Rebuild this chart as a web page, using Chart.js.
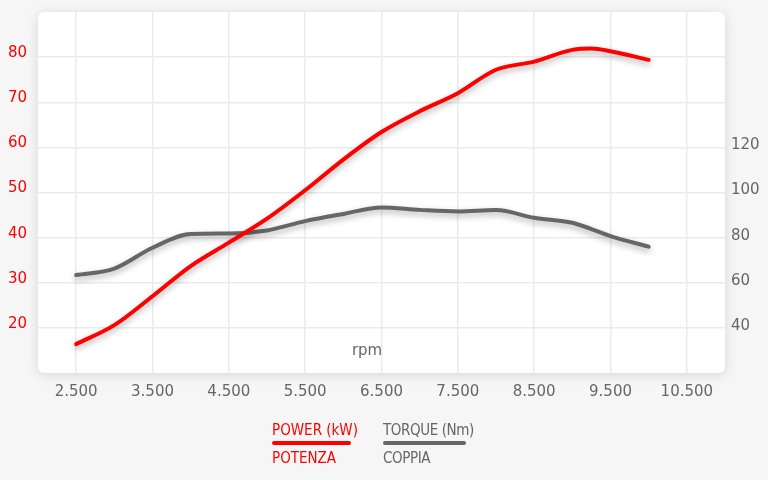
<!DOCTYPE html>
<html>
<head>
<meta charset="utf-8">
<script src="https://cdn.jsdelivr.net/npm/chart.js@4/dist/chart.umd.min.js"></script>
<style>
    html, body { margin: 0; padding: 0; background: #f6f6f6; }
    #wrap { position: relative; width: 768px; height: 480px; }
    #chart { position: absolute; left: 0; top: 0; }
    .leg { position: absolute; font-family: "Liberation Sans Narrow", "DejaVu Sans Condensed", sans-serif; font-size: 15px; line-height: 18px; }
    .leg .bar { height: 4px; border-radius: 2px; margin: 2px 0 4px 0; }
    .power { left: 272px; top: 421px; color: #ff0000; }
    .power .bar { background: #ff0000; width: 79px; }
    .torque { left: 383px; top: 421px; color: #666666; letter-spacing: -0.4px; }
    .torque .bar { background: #666666; width: 83px; }
</style>
</head>
<body>
<div id="wrap">
    <canvas id="chart" width="768" height="480"></canvas>
    <div class="leg power"><div>POWER (kW)</div><div class="bar"></div><div>POTENZA</div></div>
    <div class="leg torque"><div>TORQUE (Nm)</div><div class="bar"></div><div>COPPIA</div></div>
</div>
<script>
const rpm = [2500, 3000, 3500, 4000, 4500, 5000, 5500, 6000, 6500, 7000, 7500, 8000, 8500, 9000, 9250, 9500, 10000];
const power = [16.4, 20.6, 27.0, 33.7, 38.9, 44.2, 50.5, 57.3, 63.4, 68.0, 72.0, 77.2, 79.0, 81.6, 81.9, 81.3, 79.4];
const torque = [63.4, 66.3, 75.5, 81.6, 81.8, 83.2, 87.3, 90.5, 93.4, 92.3, 91.6, 92.2, 88.8, 86.6, 83.8, 80.7, 76.0];
const xTicks = [2500, 3500, 4500, 5500, 6500, 7500, 8500, 9500, 10500];
const xLabels = ['2.500', '3.500', '4.500', '5.500', '6.500', '7.500', '8.500', '9.500', '10.500'];

const RED = '#ff0000';
const GREY = '#666666';
const GRID = '#ebebeb';
const FONT = { family: '"DejaVu Sans", sans-serif', size: 15 };

const cardPlugin = {
    id: 'card',
    beforeDraw(chart) {
        const { ctx, chartArea: a } = chart;
        ctx.save();
        ctx.shadowColor = 'rgba(0,0,0,0.13)';
        ctx.shadowBlur = 12;
        ctx.shadowOffsetY = 2;
        ctx.fillStyle = '#ffffff';
        ctx.beginPath();
        ctx.roundRect(a.left, a.top, a.right - a.left, a.bottom - a.top, 6);
        ctx.fill();
        ctx.restore();
    },
    beforeDatasetsDraw(chart) {
        const { ctx, chartArea: a } = chart;
        ctx.save();
        ctx.fillStyle = GREY;
        ctx.font = '15px "DejaVu Sans", sans-serif';
        ctx.textAlign = 'center';
        ctx.textBaseline = 'middle';
        ctx.fillText('rpm', a.left + (a.right - a.left) * 0.479, a.bottom - 22);
        ctx.restore();
    },
    beforeDatasetDraw(chart) {
        const ctx = chart.ctx;
        ctx.save();
        ctx.shadowColor = 'rgba(0,0,0,0.3)';
        ctx.shadowBlur = 6;
        ctx.shadowOffsetY = 3;
    },
    afterDatasetDraw(chart) {
        chart.ctx.restore();
    }
};

// no extra room for half labels at the ends of the axes
const noPad = s => { s.paddingTop = 0; s.paddingBottom = 0; s.paddingLeft = 0; s.paddingRight = 0; };

new Chart(document.getElementById('chart'), {
    type: 'line',
    data: {
        datasets: [
            {
                label: 'POWER (kW)',
                data: rpm.map((r, i) => ({ x: r, y: power[i] })),
                borderColor: RED,
                borderWidth: 4,
                pointRadius: 0,
                cubicInterpolationMode: 'monotone',
                borderCapStyle: 'round',
                yAxisID: 'y'
            },
            {
                label: 'TORQUE (Nm)',
                data: rpm.map((r, i) => ({ x: r, y: torque[i] })),
                borderColor: GREY,
                borderWidth: 4,
                pointRadius: 0,
                cubicInterpolationMode: 'monotone',
                borderCapStyle: 'round',
                yAxisID: 'y2'
            }
        ]
    },
    options: {
        responsive: false,
        animation: false,
        layout: { padding: { top: 12, left: 0, right: 0, bottom: 0 } },
        plugins: { legend: { display: false }, tooltip: { enabled: false } },
        scales: {
            x: {
                type: 'linear',
                min: 2000,
                max: 11000,
                afterBuildTicks: s => { s.ticks = xTicks.map(v => ({ value: v })); },
                afterFit: s => { noPad(s); s.height = 107; },
                border: { display: false },
                grid: { color: GRID, lineWidth: 1.5, drawTicks: false },
                ticks: {
                    color: GREY,
                    font: FONT,
                    padding: 10,
                    maxRotation: 0,
                    callback: (v, i) => xLabels[i]
                }
            },
            y: {
                position: 'left',
                min: 10,
                max: 90,
                afterFit: s => { noPad(s); s.width = 38; },
                border: { display: false },
                grid: {
                    drawTicks: false,
                    lineWidth: 1.5,
                    color: c => (c.tick.value <= 10 || c.tick.value >= 90) ? 'rgba(0,0,0,0)' : GRID
                },
                ticks: {
                    stepSize: 10,
                    color: RED,
                    font: FONT,
                    padding: 11,
                    labelOffset: -4,
                    callback: v => (v >= 20 && v <= 80) ? v : ''
                }
            },
            y2: {
                position: 'right',
                min: 20,
                max: 180,
                afterFit: s => { noPad(s); s.width = 43; },
                border: { display: false },
                grid: { display: false, drawTicks: false },
                ticks: {
                    stepSize: 20,
                    color: GREY,
                    font: FONT,
                    padding: 6,
                    labelOffset: -2,
                    callback: v => (v >= 40 && v <= 120) ? v : ''
                }
            }
        }
    },
    plugins: [cardPlugin]
});
</script>
</body>
</html>
